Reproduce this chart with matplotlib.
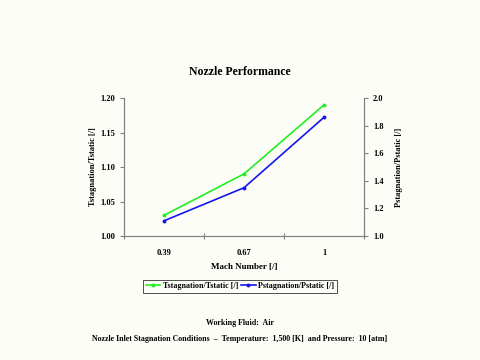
import matplotlib
matplotlib.use("Agg")
import matplotlib.pyplot as plt

mach_labels = ["0.39", "0.67", "1"]
t_ratio = [1.03, 1.09, 1.19]
p_ratio = [1.11, 1.35, 1.86]

plt.rcParams['font.family'] = ['Liberation Serif', 'DejaVu Serif']
plt.rcParams['font.weight'] = 'bold'

bg = '#fdfdf8'
grey = '#808080'

fig = plt.figure(figsize=(4.8, 3.6), dpi=100, facecolor=bg)
ax = fig.add_axes([0.2583, 0.3444, 0.5, 0.3833], facecolor=bg)
ax2 = ax.twinx()

x = list(range(len(mach_labels)))
l1, = ax.plot(x, t_ratio, color='#22ee22', lw=1.2, marker='o', ms=1.8,
              label='Tstagnation/Tstatic [/]')
l2, = ax2.plot(x, p_ratio, color='#1515ee', lw=1.2, marker='o', ms=1.8,
               label='Pstagnation/Pstatic [/]')

ax.set_xlim(-0.5, 2.5)
ax.set_ylim(1.0, 1.2)
ax.set_yticks([1.00, 1.05, 1.10, 1.15, 1.20])
ax.set_yticklabels(['1.00', '1.05', '1.10', '1.15', '1.20'])
ax2.set_ylim(1.0, 2.0)
ax2.set_yticks([1.0, 1.2, 1.4, 1.6, 1.8, 2.0])
ax2.set_yticklabels(['1.0', '1.2', '1.4', '1.6', '1.8', '2.0'])

# category labels centred, ticks on category boundaries
ax.set_xticks([-0.5, 0.5, 1.5, 2.5])
ax.set_xticklabels([])
ax.set_xticks(x, minor=True)
ax.set_xticklabels(mach_labels, minor=True)
ax.tick_params(axis='x', which='minor', length=0, pad=9, labelsize=6)
ax.tick_params(axis='x', which='major', direction='inout', length=5, color=grey)

for a in (ax, ax2):
    a.spines['top'].set_visible(False)
    for s in ('left', 'right', 'bottom'):
        a.spines[s].set_color(grey)
        a.spines[s].set_linewidth(0.8)
    a.tick_params(axis='y', labelsize=6, color=grey, length=3, direction='out')

ax.set_xlabel('Mach Number [/]', fontsize=6.5, fontweight='bold', labelpad=5)
ax.set_ylabel('Tstagnation/Tstatic [/]', fontsize=6, fontweight='bold', labelpad=2)
ax2.set_ylabel('Pstagnation/Pstatic [/]', fontsize=6, fontweight='bold',
               rotation=90, labelpad=8)

fig.text(0.5, 0.80, 'Nozzle Performance', ha='center', va='center',
         fontsize=8.5, fontweight='bold')

leg = fig.legend(handles=[l1, l2], loc='center', bbox_to_anchor=(0.5, 0.205),
                 ncol=2, fontsize=5.8, frameon=True, fancybox=False,
                 handlelength=1.8, handletextpad=0.3, columnspacing=0.4,
                 borderpad=0.3)
leg.get_frame().set_edgecolor('black')
leg.get_frame().set_linewidth(0.6)
leg.get_frame().set_facecolor(bg)

fig.text(0.5, 0.103, 'Working Fluid:  Air', ha='center', va='center',
         fontsize=5.7, fontweight='bold')
fig.text(0.5, 0.058,
         'Nozzle Inlet Stagnation Conditions  \u2013  Temperature:  1,500 [K]  and Pressure:  10 [atm]',
         ha='center', va='center', fontsize=5.7, fontweight='bold')

fig.savefig('out.png', dpi=100, facecolor=bg)
